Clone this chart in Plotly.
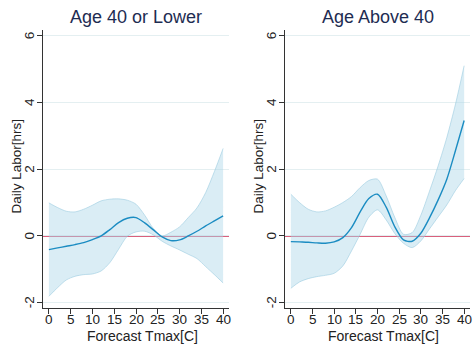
import plotly.graph_objects as go

temps = [0, 2, 4, 6, 8, 10, 12, 14, 16, 18, 20, 22, 24, 26, 28, 30, 32, 34, 36, 38, 40]

young_est = [-0.41, -0.36, -0.31, -0.26, -0.20, -0.11, 0.00, 0.19, 0.40, 0.53, 0.55, 0.39, 0.18, -0.03, -0.14, -0.12, 0.00, 0.14, 0.30, 0.45, 0.60]
young_hi = [0.99, 0.85, 0.74, 0.72, 0.80, 0.92, 1.05, 1.10, 1.11, 1.07, 0.95, 0.62, 0.22, 0.00, 0.11, 0.27, 0.55, 0.84, 1.30, 1.93, 2.62]
young_lo = [-1.81, -1.55, -1.32, -1.21, -1.16, -1.14, -1.05, -0.80, -0.40, -0.01, 0.12, 0.14, 0.03, -0.16, -0.30, -0.42, -0.55, -0.68, -0.92, -1.16, -1.41]

old_est = [-0.17, -0.18, -0.19, -0.21, -0.22, -0.18, -0.05, 0.25, 0.72, 1.12, 1.25, 0.86, 0.27, -0.12, -0.16, 0.08, 0.54, 1.08, 1.70, 2.56, 3.46]
old_hi = [1.25, 1.00, 0.80, 0.72, 0.75, 0.86, 1.00, 1.18, 1.45, 1.66, 1.70, 1.20, 0.55, 0.05, 0.10, 0.62, 1.34, 2.10, 2.95, 3.95, 5.10]
old_lo = [-1.57, -1.38, -1.28, -1.22, -1.18, -1.12, -0.90, -0.45, 0.05, 0.56, 0.78, 0.48, 0.07, -0.22, -0.35, -0.15, 0.21, 0.57, 0.93, 1.36, 1.72]

titles = ["Age 40 or Lower", "Age Above 40"]
x_title = "Forecast Tmax[C]"
y_title = "Daily Labor[hrs]"
x_ticks = [0, 5, 10, 15, 20, 25, 30, 35, 40]
y_ticks = [-2, 0, 2, 4, 6]

W, H = 473, 348
FONT = "Liberation Sans, Arial, sans-serif"
BAND = "rgba(173,214,232,0.45)"
BAND_EDGE = "rgba(150,200,222,0.55)"
LINE = "#1b8cc2"
TXT = "#222222"

fig = go.Figure()

panels = [
    (young_est, young_hi, young_lo, "x", "y", (43, 229)),
    (old_est, old_hi, old_lo, "x2", "y2", (285, 470)),
]

for est, hi, lo, xa, ya, _ in panels:
    fig.add_trace(go.Scatter(x=temps, y=lo, mode="lines", line=dict(color=BAND_EDGE, width=1, shape="spline", smoothing=0.8),
                             xaxis=xa, yaxis=ya, showlegend=False, hoverinfo="skip"))
    fig.add_trace(go.Scatter(x=temps, y=hi, mode="lines", fill="tonexty", fillcolor=BAND,
                             line=dict(color=BAND_EDGE, width=1, shape="spline", smoothing=0.8),
                             xaxis=xa, yaxis=ya, showlegend=False, hoverinfo="skip"))
    fig.add_trace(go.Scatter(x=temps, y=est, mode="lines", line=dict(color=LINE, width=1.4, shape="spline", smoothing=0.8),
                             xaxis=xa, yaxis=ya, showlegend=False))

y_dom = [1 - 308 / H, 1 - 30 / H]
axis_common = dict(showline=True, linecolor="#333333", linewidth=1, ticks="outside", ticklen=5,
                   tickcolor="#333333", showticklabels=False,
                   showgrid=True, gridcolor="#e4eff1", gridwidth=1, zeroline=False)

layout = dict(width=W, height=H, margin=dict(l=0, r=0, t=0, b=0), paper_bgcolor="white",
              plot_bgcolor="white", showlegend=False)

for i, (_, _, _, xa, ya, (px0, px1)) in enumerate(panels):
    sfx = "" if i == 0 else "2"
    layout["xaxis" + sfx] = dict(axis_common, domain=[px0 / W, px1 / W], range=[-1.35, 41.35],
                                 tickvals=x_ticks, showgrid=False, anchor="y" + sfx)
    layout["yaxis" + sfx] = dict(axis_common, domain=y_dom, range=[-2.16, 6.17], tickvals=y_ticks,
                                 anchor="x" + sfx)

fig.update_layout(**layout)

for i, (_, _, _, xa, ya, (px0, px1)) in enumerate(panels):
    fig.add_shape(type="line", xref=xa + " domain", yref=ya, x0=0, x1=1, y0=0, y1=0,
                  line=dict(color="#d9607c", width=2), layer="below")
    fig.add_annotation(text=titles[i], xref="paper", yref="paper", x=(px0 + px1) / 2 / W, y=1 - 16.5 / H,
                       showarrow=False, xanchor="center", yanchor="middle",
                       font=dict(family=FONT, size=18, color="#1e2c52"))
    fig.add_annotation(text=x_title, xref="paper", yref="paper", x=(px0 + px1 + 12) / 2 / W, y=1 - 336 / H,
                       showarrow=False, xanchor="center", yanchor="middle",
                       font=dict(family=FONT, size=14, color=TXT))
    fig.add_annotation(text=y_title, xref="paper", yref="paper", x=(px0 - 27.5) / W, y=1 - 166 / H,
                       showarrow=False, xanchor="center", yanchor="middle", textangle=-90,
                       font=dict(family=FONT, size=13.5, color=TXT))
    for t in x_ticks:
        fig.add_annotation(text=str(t), xref=xa, yref="paper", x=t, y=1 - 319.5 / H,
                           showarrow=False, xanchor="center", yanchor="middle",
                           font=dict(family=FONT, size=13.5, color=TXT))
    for t in y_ticks:
        fig.add_annotation(text=str(t), xref="paper", yref=ya, x=(px0 - 13.5) / W, y=t,
                           showarrow=False, xanchor="center", yanchor="middle", textangle=-90,
                           font=dict(family=FONT, size=13.5, color=TXT))

fig.write_html("out.html")
